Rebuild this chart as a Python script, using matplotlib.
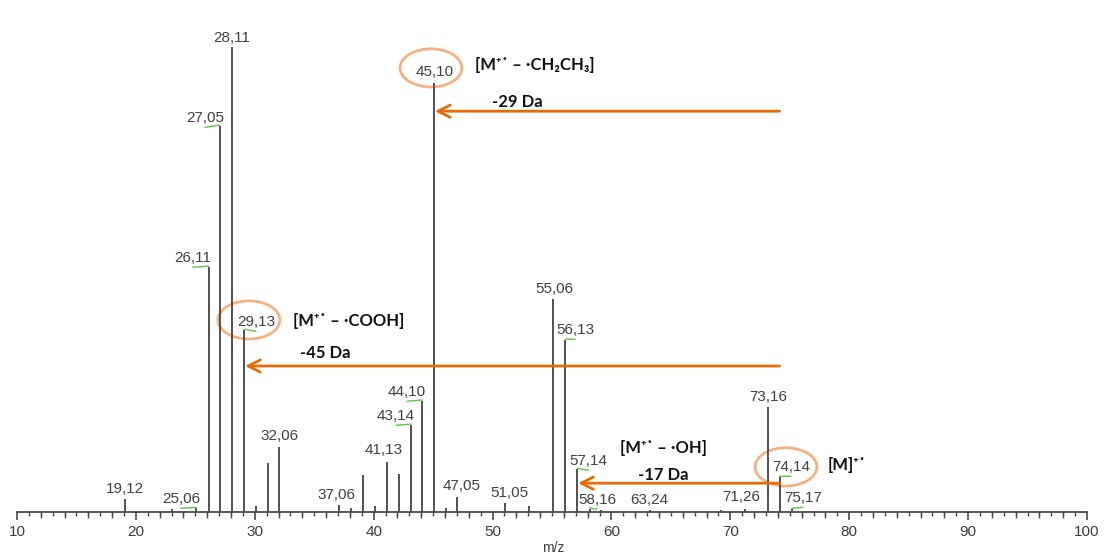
import matplotlib
matplotlib.use("Agg")
import matplotlib.pyplot as plt
from matplotlib.patches import Ellipse
from matplotlib.ticker import MultipleLocator

# ---------------- data ----------------
mz = [19.12, 23.0, 25.06, 26.11, 27.05, 28.11, 29.13, 30.1, 31.1, 32.06,
      37.06, 38.1, 39.1, 40.1, 41.13, 42.1, 43.14, 44.10, 45.10, 46.1,
      47.05, 51.05, 53.1, 55.06, 56.13, 57.14, 58.16, 59.1, 63.24, 69.2,
      71.26, 73.16, 74.14, 75.17]
intensity = [2.8, 0.7, 0.8, 52.7, 83.0, 100.0, 39.1, 1.3, 10.6, 14.0,
             1.5, 0.8, 8.0, 1.3, 10.8, 8.2, 18.7, 23.9, 92.3, 0.9,
             3.2, 2.0, 1.3, 45.8, 37.0, 9.2, 0.7, 0.4, 0.4, 0.4,
             0.6, 22.6, 7.5, 0.6]

labeled_mz = [19.12, 25.06, 26.11, 27.05, 28.11, 29.13, 32.06, 37.06, 41.13,
              43.14, 44.10, 45.10, 47.05, 51.05, 55.06, 56.13, 57.14, 58.16,
              63.24, 71.26, 73.16, 74.14, 75.17]
peak_labels = ["19,12", "25,06", "26,11", "27,05", "28,11", "29,13", "32,06",
               "37,06", "41,13", "43,14", "44,10", "45,10", "47,05", "51,05",
               "55,06", "56,13", "57,14", "58,16", "63,24", "71,26", "73,16",
               "74,14", "75,17"]
# label placement (layout)
label_x = [19.08, 23.79, 24.80, 25.81, 28.08, 30.10, 32.04, 36.83, 40.87,
           41.88, 42.80, 45.16, 47.43, 51.38, 55.17, 56.93, 58.03, 58.78,
           63.16, 70.90, 73.17, 75.10, 76.11]
label_y = [4.95, 2.80, 54.62, 84.73, 101.94, 40.86, 16.34, 3.66, 13.33,
           20.65, 25.81, 94.62, 5.59, 4.09, 47.96, 39.14, 10.97, 2.58,
           2.58, 3.23, 24.73, 9.68, 3.01]

parent_mz = 74.14
fragments_mz = [45.10, 29.13, 57.14]
loss_labels = ["-29 Da", "-45 Da", "-17 Da"]
fragment_names = ["[M\u207a\u02d9 \u2013 \u00b7CH\u2082CH\u2083]",
                  "[M\u207a\u02d9 \u2013 \u00b7COOH]",
                  "[M\u207a\u02d9 \u2013 \u00b7OH]"]
parent_name = "[M]\u207a\u02d9"
circled_mz = [45.10, 29.13, 74.14]

xticks = [10, 20, 30, 40, 50, 60, 70, 80, 90, 100]

# ---------------- figure ----------------
W, H = 1105, 556
fig = plt.figure(figsize=(W / 100, H / 100), dpi=100)
x0, x1 = 17, 1087
y_base, y_top = 512, 47
ax = fig.add_axes([x0 / W, (H - y_base) / H, (x1 - x0) / W, (y_base - y_top) / H])
ax.set_xlim(10, 100)
ax.set_ylim(0, 100)
for s in ["top", "right", "left"]:
    ax.spines[s].set_visible(False)
ax.spines["bottom"].set_color("#4a4a4a")
ax.spines["bottom"].set_linewidth(1.3)
ax.set_yticks([])
ax.set_xticks(xticks)
ax.set_xticklabels([str(t) for t in xticks])
ax.xaxis.set_minor_locator(MultipleLocator(1))
ax.tick_params(axis="x", which="major", length=6, width=1.2, color="#4a4a4a",
               labelsize=11, labelcolor="#3a3a3a", pad=3)
ax.tick_params(axis="x", which="minor", length=3, width=1.0, color="#4a4a4a")
for lab in ax.get_xticklabels():
    lab.set_fontfamily("Liberation Sans")

sec = ax.secondary_xaxis("bottom")
sec.set_xticks([t for t in range(12, 100, 2) if t % 10 != 0])
sec.set_xticklabels([])
sec.tick_params(axis="x", length=4.5, width=1.0, color="#4a4a4a")
sec.spines["bottom"].set_visible(False)

# peaks
ax.vlines(mz, 0, intensity, color="#505050", lw=1.4)

green = "#66bb55"
for m, lbl, lx, ly in zip(labeled_mz, peak_labels, label_x, label_y):
    top = intensity[mz.index(m)]
    ax.text(lx, ly, lbl, ha="center", va="center", fontsize=11,
            family="Liberation Sans", color="#404040", clip_on=False)
    if abs(lx - m) > 0.4:
        ax.plot([lx, m], [ly - 2.0, top + 0.2], color=green, lw=1.0,
                solid_capstyle="round", clip_on=False)

# circles
ell_color = "#f4b183"
ell_offsets = {45.10: (-0.28, 95.5), 29.13: (0.38, 41.3), 74.14: (0.54, 9.7)}
for m in circled_mz:
    dx, cy = ell_offsets[m]
    ax.add_patch(Ellipse((m + dx, cy), 5.2, 8.2, fill=False, edgecolor=ell_color,
                         lw=2.0, clip_on=False))

# arrows and fragment texts
arrow_color = "#e46c0a"
arrow_y = [86.2, 31.4, 6.2]
name_pos = [(48.52, 96.1), (33.21, 41.08), (60.72, 13.76)]
loss_pos = [(49.95, 88.2), (33.80, 34.19), (62.23, 7.96)]
fam = ["Lato", "DejaVu Sans"]
for fm, ay, nm, npos, ll, lpos in zip(fragments_mz, arrow_y, fragment_names,
                                       name_pos, loss_labels, loss_pos):
    ax.annotate("", xy=(fm + 0.05, ay), xytext=(parent_mz, ay),
                arrowprops=dict(arrowstyle="->", color=arrow_color, lw=2.0,
                                mutation_scale=22, shrinkA=0, shrinkB=0))
    ax.text(npos[0], npos[1], nm, ha="left", va="center", fontsize=12,
            family=fam, fontweight="bold", color="#111111")
    ax.text(lpos[0], lpos[1], ll, ha="left", va="center", fontsize=12,
            family=fam, fontweight="bold", color="#111111")
ax.text(78.21, 10.1, parent_name, ha="left", va="center", fontsize=12,
        family=fam, fontweight="bold", color="#111111")

fig.text(553 / W, 1 - 548 / H, "m/z", ha="center", va="center", fontsize=10,
         family="Liberation Sans", color="#404040")

fig.savefig("out.png", dpi=100, facecolor="white")
